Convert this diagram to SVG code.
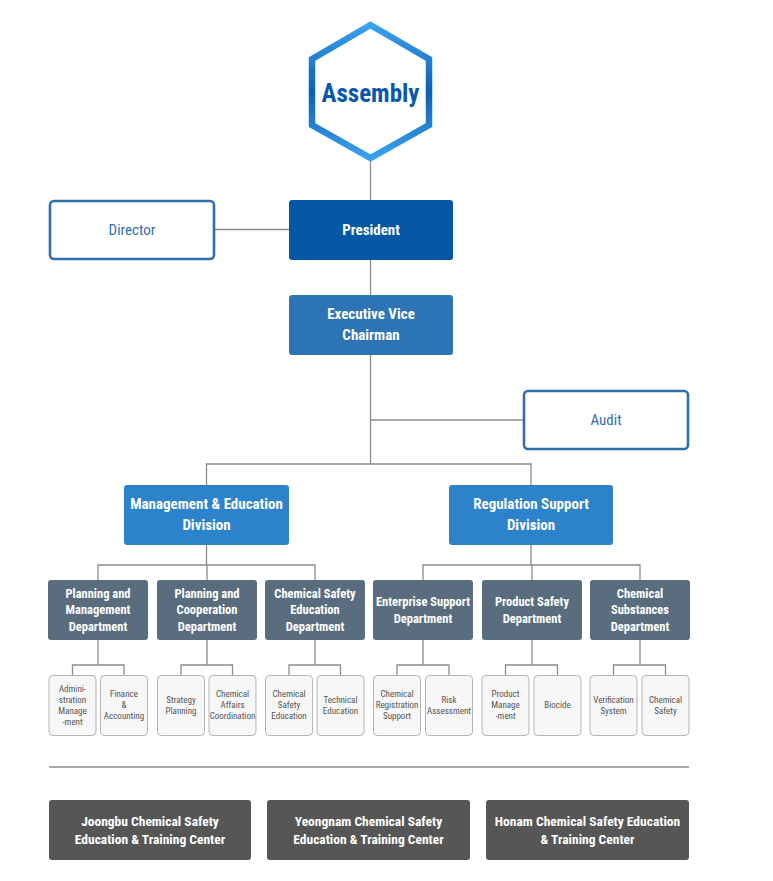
<svg xmlns="http://www.w3.org/2000/svg" width="773" height="881" viewBox="0 0 773 881">
<defs>
<linearGradient id="hexg" x1="0" y1="0" x2="0" y2="1">
<stop offset="0" stop-color="#3aa2ee"/>
<stop offset="0.5" stop-color="#0b5fb3"/>
<stop offset="1" stop-color="#3aa2ee"/>
</linearGradient>
<style>
text{font-family:"Liberation Sans Narrow","Roboto Condensed","Liberation Sans",Arial,sans-serif;text-anchor:middle}
.ln{stroke:#8c8c8c;stroke-width:1.3;fill:none}
.w{fill:#fff;font-weight:bold;font-size:15px}
.o{fill:#fff;stroke:#2f6fad;stroke-width:2.6}
.ot{fill:#2f6fad;font-size:15px}
.dep{fill:#5a6d7e}
.dt{fill:#fff;font-weight:bold;font-size:12.5px}
.sub{fill:#f7f7f7;stroke:#b3b3b3;stroke-width:1}
.st{fill:#555;font-size:9px}
.cen{fill:#565656}
.ct{fill:#fff;font-weight:bold;font-size:13.5px}
</style>
</defs>
<g id="connectors">
<line class="ln" x1="370.5" y1="160" x2="370.5" y2="200"/>
<line class="ln" x1="214" y1="229.5" x2="289" y2="229.5"/>
<line class="ln" x1="370.5" y1="260" x2="370.5" y2="295"/>
<line class="ln" x1="370.5" y1="355" x2="370.5" y2="464"/>
<line class="ln" x1="370.5" y1="420" x2="523" y2="420"/>
<polyline class="ln" points="206.5,485 206.5,464 531,464 531,485"/>
<line class="ln" x1="206.5" y1="545" x2="206.5" y2="565"/>
<line class="ln" x1="531" y1="545" x2="531" y2="565"/>
<polyline class="ln" points="98,580 98,565 315,565 315,580"/>
<line class="ln" x1="207" y1="565" x2="207" y2="580"/>
<polyline class="ln" points="423,580 423,565 640,565 640,580"/>
<line class="ln" x1="532" y1="565" x2="532" y2="580"/>
<g id="subconn">
<polyline class="ln" points="72.5,675 72.5,665 124,665 124,675"/><line class="ln" x1="98" y1="640" x2="98" y2="665"/>
<polyline class="ln" points="181,675 181,665 232.5,665 232.5,675"/><line class="ln" x1="207" y1="640" x2="207" y2="665"/>
<polyline class="ln" points="289,675 289,665 340.5,665 340.5,675"/><line class="ln" x1="315" y1="640" x2="315" y2="665"/>
<polyline class="ln" points="397,675 397,665 449,665 449,675"/><line class="ln" x1="423" y1="640" x2="423" y2="665"/>
<polyline class="ln" points="505.5,675 505.5,665 557.5,665 557.5,675"/><line class="ln" x1="532" y1="640" x2="532" y2="665"/>
<polyline class="ln" points="613.5,675 613.5,665 665.5,665 665.5,675"/><line class="ln" x1="640" y1="640" x2="640" y2="665"/>
</g>
<line class="ln" x1="49" y1="767" x2="689" y2="767"/>
</g>
<g id="assembly">
<polygon points="370.5,25 429,59 429,125 370.5,158 312,125 312,59" fill="#fff" stroke="url(#hexg)" stroke-width="6.5" stroke-linejoin="miter"/>
<text x="370.5" y="102" style="fill:#0a59a8;font-weight:bold;font-size:25px;font-family:'Liberation Sans Narrow','Roboto Condensed','Liberation Sans',sans-serif">Assembly</text>
</g>
<g id="director"><rect class="o" x="50" y="201" width="164" height="58" rx="4"/><text class="ot" x="132" y="235">Director</text></g>
<g id="president"><rect x="289" y="200" width="164" height="60" rx="3" fill="#0357a5"/><text class="w" x="371" y="235">President</text></g>
<g id="evc"><rect x="289" y="295" width="164" height="60" rx="3" fill="#2d74b5"/><text class="w" x="371" y="319">Executive Vice</text><text class="w" x="371" y="340">Chairman</text></g>
<g id="audit"><rect class="o" x="524" y="391" width="164" height="58" rx="4"/><text class="ot" x="606" y="425">Audit</text></g>
<g id="div1"><rect x="124" y="485" width="165" height="60" rx="3" fill="#2d82cc"/><text class="w" x="206.5" y="509">Management &amp; Education</text><text class="w" x="206.5" y="530">Division</text></g>
<g id="div2"><rect x="449" y="485" width="164" height="60" rx="3" fill="#2d82cc"/><text class="w" x="531" y="509">Regulation Support</text><text class="w" x="531" y="530">Division</text></g>
<g id="dept1"><rect class="dep" x="48" y="580" width="100" height="60" rx="3"/><text class="dt" x="98" y="597.5">Planning and</text><text class="dt" x="98" y="614">Management</text><text class="dt" x="98" y="631">Department</text></g>
<g id="dept2"><rect class="dep" x="157" y="580" width="100" height="60" rx="3"/><text class="dt" x="207" y="597.5">Planning and</text><text class="dt" x="207" y="614">Cooperation</text><text class="dt" x="207" y="631">Department</text></g>
<g id="dept3"><rect class="dep" x="265" y="580" width="100" height="60" rx="3"/><text class="dt" x="315" y="597.5">Chemical Safety</text><text class="dt" x="315" y="614">Education</text><text class="dt" x="315" y="631">Department</text></g>
<g id="dept4"><rect class="dep" x="373" y="580" width="100" height="60" rx="3"/><text class="dt" x="423" y="606">Enterprise Support</text><text class="dt" x="423" y="622.5">Department</text></g>
<g id="dept5"><rect class="dep" x="482" y="580" width="100" height="60" rx="3"/><text class="dt" x="532" y="606">Product Safety</text><text class="dt" x="532" y="622.5">Department</text></g>
<g id="dept6"><rect class="dep" x="590" y="580" width="100" height="60" rx="3"/><text class="dt" x="640" y="597.5">Chemical</text><text class="dt" x="640" y="614">Substances</text><text class="dt" x="640" y="631">Department</text></g>
<g id="sub1"><rect class="sub" x="49" y="675.5" width="47" height="60" rx="4"/><text class="st" x="72.5" y="691.5">Admini-</text><text class="st" x="72.5" y="702.5">stration</text><text class="st" x="72.5" y="713.5">Manage</text><text class="st" x="72.5" y="724.5">-ment</text></g>
<g id="sub2"><rect class="sub" x="100.5" y="675.5" width="47" height="60" rx="4"/><text class="st" x="124" y="697">Finance</text><text class="st" x="124" y="708">&amp;</text><text class="st" x="124" y="719">Accounting</text></g>
<g id="sub3"><rect class="sub" x="157.5" y="675.5" width="47" height="60" rx="4"/><text class="st" x="181" y="702.5">Strategy</text><text class="st" x="181" y="713.5">Planning</text></g>
<g id="sub4"><rect class="sub" x="209" y="675.5" width="47" height="60" rx="4"/><text class="st" x="232.5" y="697">Chemical</text><text class="st" x="232.5" y="708">Affairs</text><text class="st" x="232.5" y="719">Coordination</text></g>
<g id="sub5"><rect class="sub" x="265.5" y="675.5" width="47" height="60" rx="4"/><text class="st" x="289" y="697">Chemical</text><text class="st" x="289" y="708">Safety</text><text class="st" x="289" y="719">Education</text></g>
<g id="sub6"><rect class="sub" x="317" y="675.5" width="47" height="60" rx="4"/><text class="st" x="340.5" y="702.5">Technical</text><text class="st" x="340.5" y="713.5">Education</text></g>
<g id="sub7"><rect class="sub" x="373.5" y="675.5" width="47" height="60" rx="4"/><text class="st" x="397" y="697">Chemical</text><text class="st" x="397" y="708">Registration</text><text class="st" x="397" y="719">Support</text></g>
<g id="sub8"><rect class="sub" x="425.5" y="675.5" width="47" height="60" rx="4"/><text class="st" x="449" y="702.5">Risk</text><text class="st" x="449" y="713.5">Assessment</text></g>
<g id="sub9"><rect class="sub" x="482" y="675.5" width="47" height="60" rx="4"/><text class="st" x="505.5" y="697">Product</text><text class="st" x="505.5" y="708">Manage</text><text class="st" x="505.5" y="719">-ment</text></g>
<g id="sub10"><rect class="sub" x="534" y="675.5" width="47" height="60" rx="4"/><text class="st" x="557.5" y="708">Biocide</text></g>
<g id="sub11"><rect class="sub" x="590" y="675.5" width="47" height="60" rx="4"/><text class="st" x="613.5" y="702.5">Verification</text><text class="st" x="613.5" y="713.5">System</text></g>
<g id="sub12"><rect class="sub" x="642" y="675.5" width="47" height="60" rx="4"/><text class="st" x="665.5" y="702.5">Chemical</text><text class="st" x="665.5" y="713.5">Safety</text></g>
<g id="center1"><rect class="cen" x="49" y="800" width="202" height="60" rx="3"/><text class="ct" x="150" y="826">Joongbu Chemical Safety</text><text class="ct" x="150" y="844">Education &amp; Training Center</text></g>
<g id="center2"><rect class="cen" x="267" y="800" width="203" height="60" rx="3"/><text class="ct" x="368.5" y="826">Yeongnam Chemical Safety</text><text class="ct" x="368.5" y="844">Education &amp; Training Center</text></g>
<g id="center3"><rect class="cen" x="486" y="800" width="203" height="60" rx="3"/><text class="ct" x="587.5" y="826">Honam Chemical Safety Education</text><text class="ct" x="587.5" y="844">&amp; Training Center</text></g>
</svg>
